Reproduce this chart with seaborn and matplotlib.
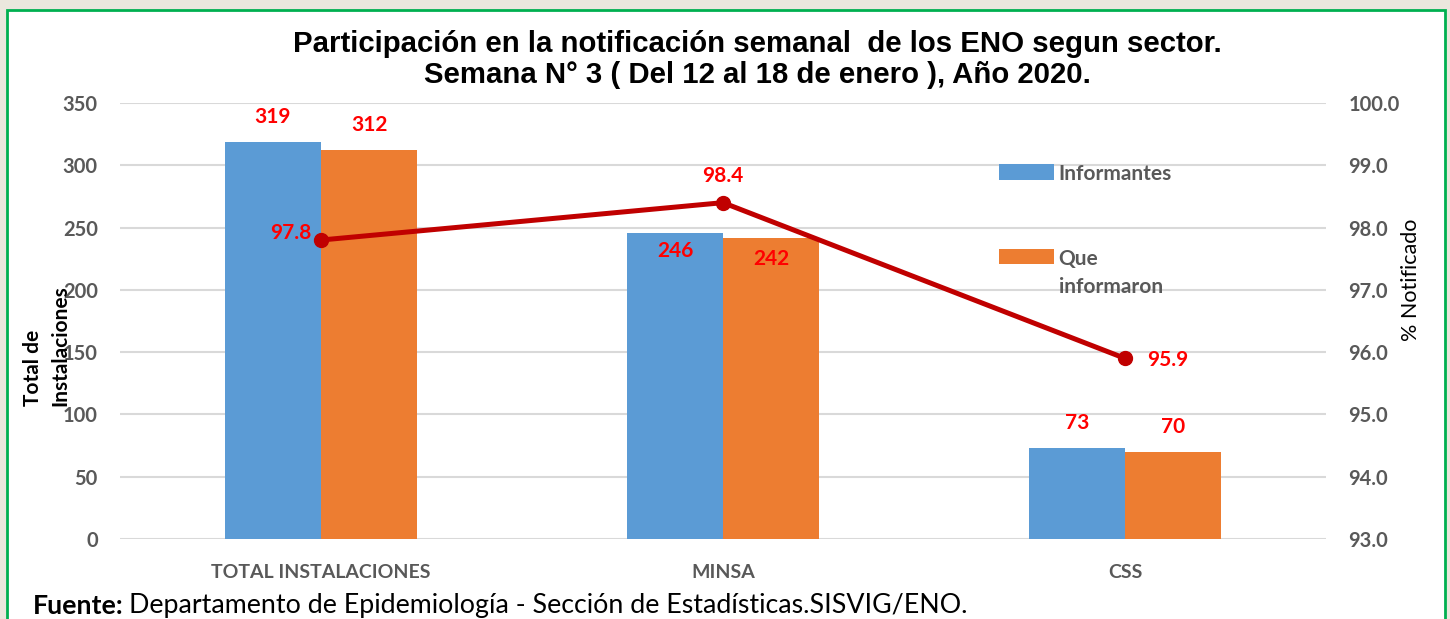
import matplotlib.pyplot as plt
import pandas as pd
import seaborn as sns
from matplotlib.patches import Rectangle

# data
sectors = ["TOTAL INSTALACIONES", "MINSA", "CSS"]
informantes = [319, 246, 73]
informaron = [312, 242, 70]
pct_notificado = [97.8, 98.4, 95.9]
series_names = ["Informantes", "Que\ninformaron"]

df = pd.DataFrame({
    "sector": sectors * 2,
    "serie": [series_names[0]] * 3 + [series_names[1]] * 3,
    "valor": informantes + informaron,
})

sns.set_theme(style="white")
plt.rcParams["font.family"] = ["Lato", "DejaVu Sans"]
plt.rcParams["font.weight"] = "bold"
plt.rcParams["text.color"] = "black"

fig = plt.figure(figsize=(14.5, 6.19), dpi=100, facecolor="#ebe7dd")
fig.patches.append(Rectangle((7 / 1450, -0.05), 1438 / 1450, 1.05 - 10 / 619,
                             transform=fig.transFigure, facecolor="white",
                             edgecolor="#00b050", linewidth=2, zorder=-5))

ax = fig.add_axes([120 / 1450, 80 / 619, 1206 / 1450, 436 / 619])
ax.set_facecolor("none")
sns.barplot(data=df, x="sector", y="valor", hue="serie", ax=ax,
            palette=["#5b9bd5", "#ed7d31"], width=0.478, saturation=1,
            edgecolor="none", linewidth=0)
ax.set_ylim(0, 350)
ax.set_yticks(range(0, 351, 50))
ax.yaxis.grid(True, color="#d9d9d9", linewidth=1.5)
ax.set_axisbelow(True)
for s in ax.spines.values():
    s.set_visible(False)
ax.tick_params(axis="y", length=0, labelsize=14.5, labelcolor="#595959", pad=16)
ax.tick_params(axis="x", length=0, labelsize=14, labelcolor="#595959", pad=18)
ax.set_xlabel("")
ax.set_ylabel("")

# bar value labels (MINSA labels sit inside the bars)
offsets = [[(0, 25), (0, -18), (0, 25)], [(0, 25), (0, -21), (0, 25)]]
for cont, offs in zip(ax.containers, offsets):
    for bar, (dx, dy) in zip(cont, offs):
        ax.annotate(f"{bar.get_height():.0f}",
                    (bar.get_x() + bar.get_width() / 2, bar.get_height()),
                    xytext=(dx, dy * 0.72), textcoords="offset points",
                    ha="center", va="center", color="red",
                    fontsize=15, fontweight="bold")

leg = ax.legend(loc="upper left", bbox_to_anchor=((991 - 120) / 1206, (539 - 156) / 436),
                frameon=False, fontsize=15, handlelength=2.6, handleheight=0.75,
                handletextpad=0.25, labelspacing=3.1, borderaxespad=0)
# handle next to the first line of a two-line label
for col in leg._legend_handle_box.get_children():
    for row in col.get_children():
        row.align = "top"
for t in leg.get_texts():
    t.set_color("#595959")
    t.set_linespacing(1.5)

ax2 = ax.twinx()
ax2.plot(range(len(sectors)), pct_notificado, color="#c00000", linewidth=3.6,
         marker="o", markersize=10)
ax2.set_ylim(93, 100)
ax2.set_yticks([93 + i for i in range(8)])
ax2.set_yticklabels([f"{93 + i:.1f}" for i in range(8)])
ax.set_xlim(-0.5, len(sectors) - 0.5)
for s in ax2.spines.values():
    s.set_visible(False)
ax2.tick_params(axis="y", length=0, labelsize=14.5, labelcolor="#595959", pad=16)
ax2.set_ylabel("% Notificado", fontsize=15.5, fontweight="normal", color="black", labelpad=1)
ax2.yaxis.label.set_y((539 - 280) / 436)
ax2.grid(False)

pt_offsets = [(-30, -7), (0, -27), (43, 2)]
for i, (v, (dx, dy)) in enumerate(zip(pct_notificado, pt_offsets)):
    ax2.annotate(f"{v:.1f}", (i, v), xytext=(dx * 0.72, -dy * 0.72),
                 textcoords="offset points", ha="center", va="center",
                 color="red", fontsize=15, fontweight="bold")

fig.text(47 / 1450, 1 - 346 / 619, "Total de\nInstalaciones", rotation=90,
         ha="center", va="center", multialignment="left",
         fontsize=15, fontweight="bold", color="black", linespacing=1.45)

fig.text(757 / 1450, 1 - 44 / 619,
         "Participación en la notificación semanal  de los ENO segun sector.",
         ha="center", va="center", fontsize=21.2, fontweight="bold",
         family="Liberation Sans")
fig.text(757 / 1450, 1 - 75 / 619,
         "Semana N° 3 ( Del 12 al 18 de enero ), Año 2020.",
         ha="center", va="center", fontsize=21.2, fontweight="bold",
         family="Liberation Sans")

t1 = fig.text(33 / 1450, 1 - 606 / 619, "Fuente:", ha="left", va="center",
              fontsize=19.3, fontweight="bold")
fig.canvas.draw()
bb = t1.get_window_extent()
fig.text(bb.x1 / 1450 + 5 / 1450, 1 - 606 / 619,
         "Departamento de Epidemiología - Sección de Estadísticas.SISVIG/ENO.",
         ha="left", va="center", fontsize=19.3, fontweight="normal")

fig.savefig("out.png", dpi=100, facecolor=fig.get_facecolor())
